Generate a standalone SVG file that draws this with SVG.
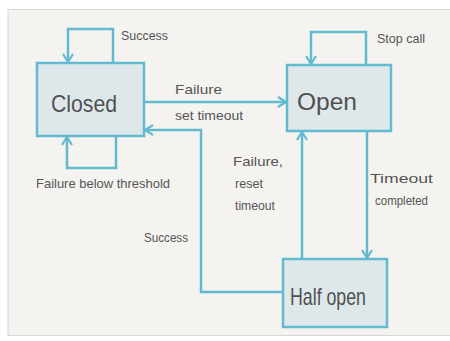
<svg xmlns="http://www.w3.org/2000/svg" width="450" height="341" viewBox="0 0 450 341">
  <style>
    .node rect { fill: #dee8eb; stroke: #62bad0; stroke-width: 2.5; }
    .edge { fill: none; stroke: #62bad0; stroke-width: 2.5; }
    .title { font-family: "Liberation Sans", Arial, sans-serif; font-size: 24px; fill: #505050; text-anchor: middle; }
    .lbl { font-family: "Liberation Sans", Arial, sans-serif; font-size: 13px; fill: #555555; }
  </style>
  <defs>
    <marker id="arrow" viewBox="0 0 10 12" refX="9" refY="6" markerWidth="10" markerHeight="12" markerUnits="userSpaceOnUse" orient="auto">
      <path d="M1,1 L9,6 L1,11" fill="none" stroke="#62bad0" stroke-width="2.2"/>
    </marker>
  </defs>

  <!-- canvas -->
  <rect x="0" y="0" width="450" height="341" fill="#ffffff"/>
  <rect x="8" y="9.5" width="445" height="326" fill="#f4f3f0" stroke="#d6d6d4" stroke-width="1"/>

  <!-- connectors -->
  <g id="connectors">
    <!-- Closed self loop: success -->
    <path class="edge" d="M113,63 V29 H68 V62" marker-end="url(#arrow)"/>
    <!-- Closed self loop: failure below threshold -->
    <path class="edge" d="M116,136 V168 H67 V137" marker-end="url(#arrow)"/>
    <!-- Closed to Open -->
    <path class="edge" d="M144,102 H286" marker-end="url(#arrow)"/>
    <!-- Open self loop: stop call -->
    <path class="edge" d="M366,65 V32 H311 V64" marker-end="url(#arrow)"/>
    <!-- Open to Half open -->
    <path class="edge" d="M367,131 V258" marker-end="url(#arrow)"/>
    <!-- Half open to Open -->
    <path class="edge" d="M302,259 V132" marker-end="url(#arrow)"/>
    <!-- Half open to Closed -->
    <path class="edge" d="M283,292 H201 V130 H145" marker-end="url(#arrow)"/>

    <text class="lbl" x="121" y="40" textLength="47" lengthAdjust="spacingAndGlyphs">Success</text>
    <text class="lbl" x="36" y="188" textLength="134" lengthAdjust="spacingAndGlyphs">Failure below threshold</text>
    <text class="lbl" x="175" y="94" font-size="14" textLength="47" lengthAdjust="spacingAndGlyphs">Failure</text>
    <text class="lbl" x="175" y="120" textLength="68" lengthAdjust="spacingAndGlyphs">set timeout</text>
    <text class="lbl" x="377" y="43" textLength="48" lengthAdjust="spacingAndGlyphs">Stop call</text>
    <text class="lbl" x="233" y="166" font-size="15" textLength="50" lengthAdjust="spacingAndGlyphs">Failure,</text>
    <text class="lbl" x="235" y="188" textLength="28" lengthAdjust="spacingAndGlyphs">reset</text>
    <text class="lbl" x="235" y="210" font-size="14" textLength="40" lengthAdjust="spacingAndGlyphs">timeout</text>
    <text class="lbl" x="370" y="183" font-size="16" textLength="63" lengthAdjust="spacingAndGlyphs">Timeout</text>
    <text class="lbl" x="375" y="205" textLength="53" lengthAdjust="spacingAndGlyphs">completed</text>
    <text class="lbl" x="144" y="242" textLength="44" lengthAdjust="spacingAndGlyphs">Success</text>
  </g>

  <!-- states -->
  <g id="closed" class="node">
    <rect x="37" y="63" width="107" height="73"/>
    <text class="title" x="84" y="112" textLength="66" lengthAdjust="spacingAndGlyphs">Closed</text>
  </g>
  <g id="open" class="node">
    <rect x="287" y="65" width="104" height="66"/>
    <text class="title" x="327" y="110" textLength="60" lengthAdjust="spacingAndGlyphs">Open</text>
  </g>
  <g id="half-open" class="node">
    <rect x="283" y="259" width="104" height="68"/>
    <text class="title" x="328" y="305" font-size="22" textLength="76" lengthAdjust="spacingAndGlyphs">Half open</text>
  </g>
</svg>
